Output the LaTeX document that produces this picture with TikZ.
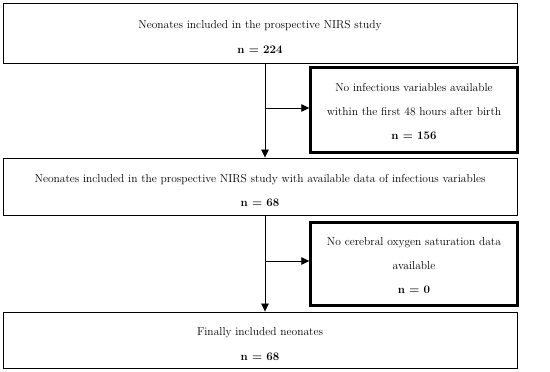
\documentclass[tikz,border=0pt]{standalone}
\usetikzlibrary{arrows.meta}
\newcommand\maingap{\rule{0pt}{16pt}}
\newcommand\sidegap{\rule{0pt}{12pt}}

\begin{document}
\begin{tikzpicture}[x=1pt,y=-1pt,
  mainbox/.style={draw,line width=0.9pt,minimum width=514pt,align=center,
    font=\fontsize{11.5}{24.5}\selectfont},
  sidebox/.style={draw,line width=2.4pt,minimum width=207pt,align=center,
    font=\fontsize{11.5}{24}\selectfont},
  flow/.style={line width=0.8pt,-{Triangle[length=8pt,width=7.5pt]}}]
  \useasboundingbox (0,0) rectangle (550,372);
  % main boxes
  \node[mainbox,minimum height=60pt] (included) at (260,33)
    {\maingap Neonates included in the prospective NIRS study\\ \textbf{n = 224}};
  \node[mainbox,minimum height=57pt] (withdata) at (260,186.5)
    {\maingap Neonates included in the prospective NIRS study with available data of infectious variables\\ \textbf{n = 68}};
  \node[mainbox,minimum height=56pt] (final) at (260,340)
    {\maingap Finally included neonates\\ \textbf{n = 68}};
  % excluded
  \node[sidebox,minimum height=85pt] (noinfect) at (414,110)
    {\sidegap No infectious variables available\\ within the first 48 hours after birth\\ \textbf{n = 156}};
  \node[sidebox,minimum height=83pt] (nooxygen) at (414,264)
    {\sidegap No cerebral oxygen saturation data\\ available\\ \textbf{n = 0}};
  % arrows
  \coordinate (b1) at (265,108);
  \coordinate (b2) at (265,261);
  \draw[flow] ([xshift=5pt]included.south) -- ([xshift=5pt]withdata.north);
  \draw[flow] ([xshift=5pt]withdata.south) -- ([xshift=5pt]final.north);
  \draw[flow] (b1) -- (b1 -| noinfect.west);
  \draw[flow] (b2) -- (b2 -| nooxygen.west);
\end{tikzpicture}
\end{document}
